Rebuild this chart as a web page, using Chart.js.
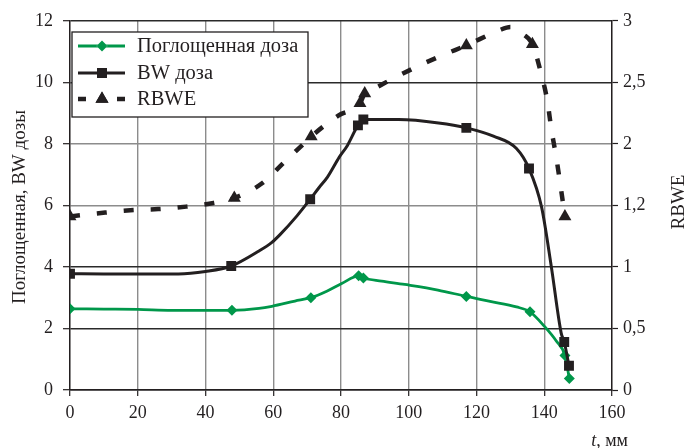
<!DOCTYPE html>
<html>
<head>
<meta charset="utf-8">
<script src="https://cdn.jsdelivr.net/npm/chart.js@4/dist/chart.umd.min.js"></script>
<style>
  html, body { margin: 0; padding: 0; background: #ffffff; }
  #wrap { width: 687px; height: 448px; }
</style>
</head>
<body>
<div id="wrap"><canvas id="chart" width="687" height="448"></canvas></div>
<script>
// Depth t, mm
const absorbedT = [0, 10, 20, 30, 40, 47.8, 55.8, 59.6, 66.4, 71.1, 75.8, 80.2, 85.2, 86.6, 92, 98.8, 108.6, 117, 124, 131.8, 135.8, 140.2, 143.5, 146.1, 147.4];
const absorbedDose = [2.64, 2.63, 2.62, 2.59, 2.59, 2.59, 2.65, 2.72, 2.89, 3.0, 3.21, 3.46, 3.71, 3.64, 3.54, 3.43, 3.25, 3.04, 2.88, 2.70, 2.54, 2.05, 1.6, 1.12, 0.37];
const absorbedMarks = [1, 0, 0, 0, 0, 1, 0, 0, 0, 1, 0, 0, 1, 1, 0, 0, 0, 1, 0, 0, 1, 0, 0, 1, 1];

const bwT = [0, 10, 20, 32, 40, 47.6, 55.8, 59.6, 62, 67, 70.9, 73.6, 76, 79.5, 81.9, 85, 86.6, 97, 108.8, 117, 125, 131.8, 135.5, 139.2, 142.1, 145, 145.9, 147.3];
const bwDose = [3.78, 3.77, 3.77, 3.77, 3.85, 4.03, 4.52, 4.8, 5.05, 5.66, 6.2, 6.59, 6.92, 7.57, 7.95, 8.6, 8.79, 8.79, 8.68, 8.52, 8.25, 7.85, 7.2, 5.95, 4.0, 1.85, 1.56, 0.79];
const bwMarks = [1, 0, 0, 0, 0, 1, 0, 0, 0, 0, 1, 0, 0, 0, 0, 1, 1, 0, 0, 1, 0, 0, 1, 0, 0, 0, 1, 1];

const rbweT = [0, 9.8, 17.8, 26, 34.3, 42.4, 48.5, 56.7, 63.2, 69.3, 71.2, 79.2, 85.6, 87, 88.5, 96, 103.4, 110.8, 117, 126.5, 130, 133.8, 136.5, 139, 140.9, 142.1, 143.6, 144.8, 146.1];
const rbwe = [1.41, 1.44, 1.46, 1.47, 1.49, 1.52, 1.56, 1.68, 1.85, 2.01, 2.06, 2.23, 2.33, 2.41, 2.43, 2.54, 2.64, 2.73, 2.80, 2.92, 2.95, 2.89, 2.81, 2.58, 2.35, 2.12, 1.88, 1.66, 1.41];
const rbweMarks = [1, 0, 0, 0, 0, 0, 1, 0, 0, 0, 1, 0, 1, 1, 0, 0, 0, 0, 1, 0, 0, 0, 1, 0, 0, 0, 0, 0, 1];

const xTicks = [0, 20, 40, 60, 80, 100, 120, 140, 160];
const leftTicks = [0, 2, 4, 6, 8, 10, 12];
const rightTickValues = [0, 0.5, 1, 1.5, 2, 2.5, 3];
const rightTickLabels = ['0', '0,5', '1', '1,2', '2', '2,5', '3'];

const seriesNames = ['Поглощенная доза', 'BW доза', 'RBWE'];
const leftTitle = 'Поглощенная, BW дозы';
const rightTitle = 'RBWE';
const xTitleVar = 't';
const xTitleUnit = ', мм';

const GREEN = '#00974a';
const BLACK = '#231f20';
const FONT = '"Liberation Serif", "DejaVu Serif", serif';

const toPoints = (xs, ys) => xs.map((x, i) => ({ x: x, y: ys[i] }));
const markRadius = (marks, r) => ctx => (marks[ctx.dataIndex] ? r : 0);

// Axis titles and the boxed legend, painted on top of the plot
const decorations = {
  id: 'decorations',
  afterDraw(chart) {
    const c = chart.ctx;
    c.save();
    c.fillStyle = BLACK;
    c.font = '19px ' + FONT;
    c.textAlign = 'center';
    c.textBaseline = 'middle';

    c.save();
    c.translate(20, 207);
    c.rotate(-Math.PI / 2);
    c.fillText(leftTitle, 0, 0);
    c.restore();

    c.save();
    c.translate(679, 202);
    c.rotate(-Math.PI / 2);
    c.fillText(rightTitle, 0, 0);
    c.restore();

    // x axis title with italic variable
    c.textBaseline = 'alphabetic';
    c.textAlign = 'left';
    c.font = '18px ' + FONT;
    const unitW = c.measureText(xTitleUnit).width;
    c.font = 'italic 18px ' + FONT;
    const varW = c.measureText(xTitleVar).width;
    const xEnd = 628;
    const base = 446;
    c.fillText(xTitleVar, xEnd - unitW - varW, base);
    c.font = '18px ' + FONT;
    c.fillText(xTitleUnit, xEnd - unitW, base);

    // legend
    const bx = 72, by = 32, bw = 236, bh = 85;
    c.fillStyle = '#ffffff';
    c.fillRect(bx, by, bw, bh);
    c.strokeStyle = BLACK;
    c.lineWidth = 1.3;
    c.strokeRect(bx, by, bw, bh);

    const rows = [46, 73, 99];
    const x0 = 78, x1 = 125, xm = 102;
    chart.data.datasets.forEach((ds, i) => {
      const y = rows[i];
      c.save();
      c.strokeStyle = ds.borderColor;
      c.lineWidth = ds.borderWidth;
      if (ds.borderDash && ds.borderDash.length) c.setLineDash([8, 31]);
      c.beginPath();
      c.moveTo(x0, y);
      c.lineTo(x1, y);
      c.stroke();
      c.restore();
      Chart.helpers.drawPoint(c, {
        pointStyle: ds.pointStyle,
        radius: ds.legendRadius,
        borderWidth: 0
      }, xm, y);
      c.fillStyle = ds.pointBackgroundColor;
      c.fill();
      c.fillStyle = BLACK;
      c.font = '20.5px ' + FONT;
      c.textBaseline = 'middle';
      c.textAlign = 'left';
      c.fillText(ds.label, 137, y + 1);
    });
    c.restore();
  }
};

const gridDark = '#2a2a2a';
const gridGrey = '#8c8c8c';

new Chart(document.getElementById('chart'), {
  type: 'line',
  data: {
    datasets: [
      {
        label: seriesNames[0],
        data: toPoints(absorbedT, absorbedDose),
        yAxisID: 'y',
        borderColor: GREEN,
        borderWidth: 2.8,
        pointStyle: 'rectRot',
        pointRadius: markRadius(absorbedMarks, 5.5),
        pointHoverRadius: 0,
        pointBackgroundColor: GREEN,
        pointBorderColor: GREEN,
        pointBorderWidth: 0,
        legendRadius: 5.5,
        cubicInterpolationMode: 'monotone',
        order: 3
      },
      {
        label: seriesNames[1],
        data: toPoints(bwT, bwDose),
        yAxisID: 'y',
        borderColor: BLACK,
        borderWidth: 3,
        pointStyle: 'rect',
        pointRadius: markRadius(bwMarks, 7),
        pointHoverRadius: 0,
        pointBackgroundColor: BLACK,
        pointBorderColor: BLACK,
        pointBorderWidth: 0,
        legendRadius: 7,
        cubicInterpolationMode: 'monotone',
        order: 2
      },
      {
        label: seriesNames[2],
        data: toPoints(rbweT, rbwe),
        yAxisID: 'y1',
        borderColor: BLACK,
        borderWidth: 4.5,
        borderDash: [10, 17],
        pointStyle: 'triangle',
        pointRadius: markRadius(rbweMarks, 7.5),
        pointHoverRadius: 0,
        pointBackgroundColor: BLACK,
        pointBorderColor: BLACK,
        pointBorderWidth: 0,
        legendRadius: 7.5,
        cubicInterpolationMode: 'monotone',
        order: 1
      }
    ]
  },
  options: {
    responsive: false,
    animation: false,
    events: [],
    layout: { padding: { top: 20, left: 0, right: 0, bottom: 0 } },
    plugins: {
      legend: { display: false },
      tooltip: { enabled: false },
      title: { display: false }
    },
    scales: {
      x: {
        type: 'linear',
        min: 0,
        max: 160,
        afterBuildTicks: axis => { axis.ticks = xTicks.map(v => ({ value: v })); },
        afterFit: axis => { axis.height = 58; },
        ticks: {
          color: BLACK,
          font: { family: FONT, size: 18 },
          padding: 6,
          maxRotation: 0,
          callback: v => String(v)
        },
        grid: {
          color: gridGrey,
          lineWidth: 1.4,
          tickLength: 6,
          tickColor: BLACK,
          tickWidth: 1.2
        },
        border: { color: BLACK, width: 1.4 }
      },
      y: {
        position: 'left',
        min: 0,
        max: 12,
        afterBuildTicks: axis => { axis.ticks = leftTicks.map(v => ({ value: v })); },
        afterFit: axis => { axis.width = 70; },
        ticks: {
          color: BLACK,
          font: { family: FONT, size: 18 },
          padding: 10,
          callback: v => String(v)
        },
        grid: {
          color: ctx => ([6, 8].includes(ctx.tick && ctx.tick.value) ? gridGrey : gridDark),
          lineWidth: 1.4,
          tickLength: 7,
          tickColor: BLACK,
          tickWidth: 1.2
        },
        border: { color: BLACK, width: 1.4 }
      },
      y1: {
        position: 'right',
        min: 0,
        max: 3,
        afterBuildTicks: axis => { axis.ticks = rightTickValues.map(v => ({ value: v })); },
        afterFit: axis => { axis.width = 75; },
        ticks: {
          color: BLACK,
          font: { family: FONT, size: 18 },
          padding: 5,
          callback: (v) => {
            const i = rightTickValues.indexOf(v);
            return i >= 0 ? rightTickLabels[i] : '';
          }
        },
        grid: {
          drawOnChartArea: false,
          tickLength: 6,
          tickColor: BLACK,
          tickWidth: 1.2
        },
        border: { color: BLACK, width: 1.4 }
      }
    }
  },
  plugins: [decorations]
});
</script>
</body>
</html>
